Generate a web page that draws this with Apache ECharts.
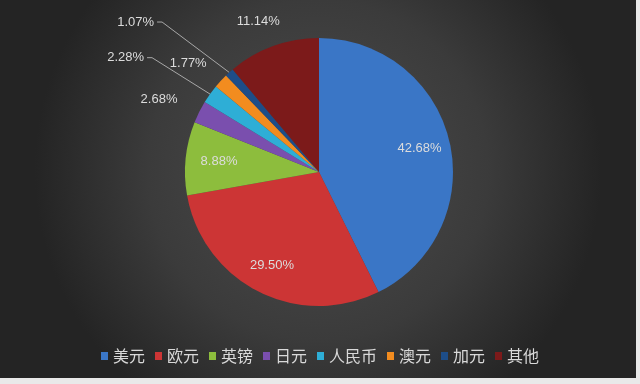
<!DOCTYPE html>
<html>
<head>
<meta charset="utf-8">
<script src="https://cdn.jsdelivr.net/npm/echarts@6/dist/echarts.min.js"></script>
<style>html,body{margin:0;padding:0;background:#e9e9e9}#c{width:640px;height:384px}</style>
</head>
<body>
<div id="c"></div>
<script>
// ---- data ----
const categories = ['美元', '欧元', '英镑', '日元', '人民币', '澳元', '加元', '其他'];
const shares = [42.68, 29.50, 8.88, 2.68, 2.28, 1.77, 1.07, 11.14];
const colors = ['#3a76c6', '#cc3535', '#8dbd3d', '#7a4fae', '#2eaed6', '#f28c1f', '#1d4d88', '#7c1a1a'];

// ---- layout / style ----
const CX = 319, CY = 172, R = 134;
// label placement: a = angle (deg clockwise from top, null = slice middle), d = distance / R, elbow = leader line elbow
const labelPlace = [
  {a: null, d: 0.77},
  {a: null, d: 0.78},
  {a: null, d: 0.75},
  {a: 294.3, d: 1.31},
  {elbow: [304.4, 1.51]},
  {a: 309.8, d: 1.27},
  {elbow: [313.7, 1.62]},
  {a: 338, d: 1.21}
];
const total = shares.reduce((s, v) => s + v, 0);
const mids = [];
let acc = 0;
shares.forEach(v => { mids.push((acc + v / 2) / total * 360); acc += v; });
function polar(aDeg, dist) {
  const t = aDeg * Math.PI / 180;
  return [CX + dist * Math.sin(t), CY - dist * Math.cos(t)];
}

const chart = echarts.init(document.getElementById('c'), null, {renderer: 'canvas'});
chart.setOption({
  backgroundColor: '#e9e9e9',
  animation: false,
  graphic: [{
    type: 'rect', z: -10, silent: true,
    shape: {x: 0, y: 0, width: 636, height: 378},
    style: {
      fill: new echarts.graphic.RadialGradient(0.5, 0.45, 0.75, [
        {offset: 0, color: '#4d4d4d'},
        {offset: 0.6, color: '#3b3b3b'},
        {offset: 1, color: '#242424'}
      ])
    }
  }],
  legend: {
    bottom: 15,
    left: 'center',
    itemWidth: 7,
    itemHeight: 8,
    itemGap: 10,
    icon: 'rect',
    textStyle: {color: '#d9d9d9', fontSize: 16, fontFamily: 'Noto Sans CJK SC', padding: [0, 0, 0, 0]},
    data: categories
  },
  series: [{
    type: 'pie',
    center: [CX, CY],
    radius: R,
    startAngle: 90,
    clockwise: true,
    avoidLabelOverlap: false,
    itemStyle: {borderWidth: 0},
    label: {
      show: true,
      position: 'outside',
      formatter: p => shares[p.dataIndex].toFixed(2) + '%',
      color: '#dcdcdc',
      fontSize: 13,
      fontFamily: 'Liberation Sans'
    },
    labelLine: {show: false, lineStyle: {color: '#a8a8a8', width: 1}},
    labelLayout: function (p) {
      const lp = labelPlace[p.dataIndex];
      if (lp.elbow) {
        const e = polar(lp.elbow[0], lp.elbow[1] * R);
        const s = polar(mids[p.dataIndex], R);
        return {
          x: e[0] - 8, y: e[1], align: 'right', verticalAlign: 'middle',
          labelLinePoints: [s, e, [e[0] - 5, e[1]]]
        };
      }
      const pt = polar(lp.a === null ? mids[p.dataIndex] : lp.a, lp.d * R);
      return {x: pt[0], y: pt[1], align: 'center', verticalAlign: 'middle'};
    },
    data: categories.map((c, i) => ({
      name: c,
      value: shares[i],
      itemStyle: {color: colors[i]},
      labelLine: {show: !!labelPlace[i].elbow}
    }))
  }]
});
</script>
</body>
</html>
